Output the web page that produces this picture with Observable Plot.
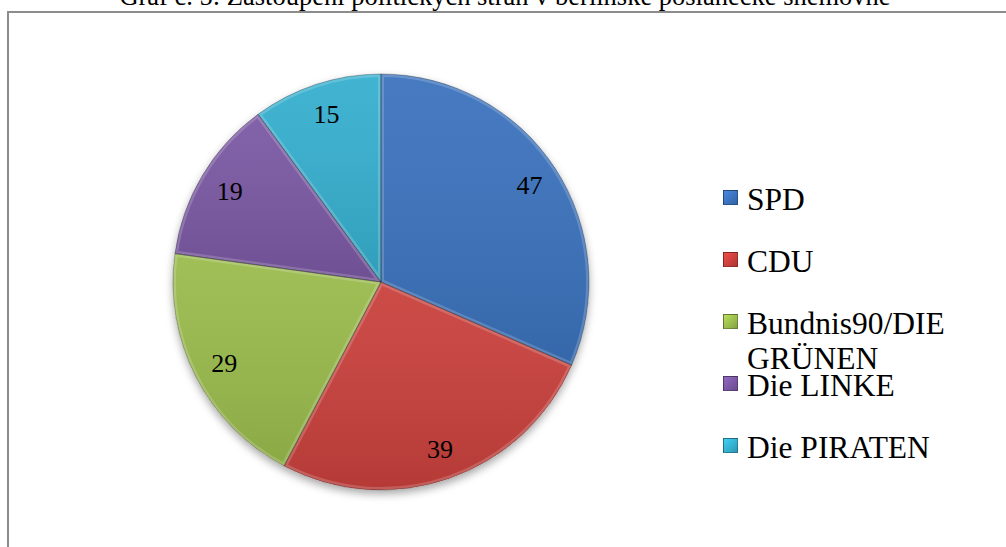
<!DOCTYPE html>
<html>
<head>
<meta charset="utf-8">
<script src="https://cdn.jsdelivr.net/npm/d3@7"></script>
<script src="https://cdn.jsdelivr.net/npm/@observablehq/plot@0.6"></script>
<style>
  html, body { margin: 0; padding: 0; background: #fff; overflow: hidden; }
  #wrap { position: relative; width: 1006px; height: 547px; overflow: hidden; font-family: "Liberation Serif", "Times New Roman", serif; }
  #title { position: absolute; left: 0; width: 1010px; top: -17px; line-height: 26px; font-size: 26.5px; text-align: center; color: #000; white-space: nowrap; }
  #frame { position: absolute; left: 7px; top: 11px; width: 1200px; height: 700px; border-left: 2px solid #8c8c8c; border-top: 2px solid #8c8c8c; }
  #chart { position: absolute; left: 0; top: 0; }
  #chart svg text { font-family: "Liberation Serif", "Times New Roman", serif !important; }
  .leg { position: absolute; left: 723px; width: 260px; font-size: 31.5px; line-height: 35px; color: #000; }
  .leg .sw { position: absolute; left: 0; width: 15px; height: 15px; box-sizing: border-box; border: 1px solid rgba(0,0,0,0.35); }
  .leg .tx { position: absolute; left: 24px; width: 215px; }
</style>
</head>
<body>
<div id="wrap">
  <div id="frame"></div>
  <div id="chart"></div>
  <div id="title"></div>
</div>
<script>
const titleText = "Graf č. 5: Zastoupení politických stran v berlínské poslanecké sněmovně";
const parties = ["SPD", "CDU", "Bundnis90/DIE GRÜNEN", "Die LINKE", "Die PIRATEN"];
const seats = [47, 39, 29, 19, 15];
const colors = ["#3b72bd", "#c9403c", "#9abb4c", "#7a58a3", "#35afcf"];

document.getElementById("title").textContent = titleText;

const data = parties.map((p, i) => ({party: p, value: seats[i]}));
const color = Plot.scale({color: {type: "ordinal", domain: parties, range: colors}});

const arcs = d3.pie().sort(null).value(d => d.value)(data);
const labelR = 0.85;
const labels = arcs.map(a => {
  const m = (a.startAngle + a.endAngle) / 2;
  return {x: labelR * Math.sin(m), y: labelR * Math.cos(m), text: String(a.data.value)};
});

const cx = 381, cy = 282, R = 208;

function pieMark(index, scales, values, dimensions) {
  const sx = scales.x, sy = scales.y;
  const x0 = sx(0), y0 = sy(0);
  const r = Math.abs(sx(1) - sx(0));
  const g = d3.create("svg:g");
  const defs = g.append("defs");
  const sh = defs.append("filter").attr("id", "pieShadow").attr("x", "-20%").attr("y", "-20%").attr("width", "140%").attr("height", "140%");
  sh.append("feDropShadow").attr("dx", 0).attr("dy", 4).attr("stdDeviation", 4).attr("flood-color", "#000").attr("flood-opacity", 0.35);
  const grad = defs.append("linearGradient").attr("id", "pieShade").attr("x1", 0).attr("y1", 0).attr("x2", 0).attr("y2", 1);
  grad.append("stop").attr("offset", "0%").attr("stop-color", "#fff").attr("stop-opacity", 0.06);
  grad.append("stop").attr("offset", "100%").attr("stop-color", "#000").attr("stop-opacity", 0.1);
  const arc = d3.arc().innerRadius(0).outerRadius(r);
  const root = g.append("g").attr("transform", `translate(${x0},${y0})`);
  root.append("circle").attr("r", r).attr("fill", "#fff").attr("filter", "url(#pieShadow)");
  arcs.forEach((a, i) => {
    const d = arc(a);
    defs.append("clipPath").attr("id", "clip" + i).append("path").attr("d", d).attr("transform", `translate(${x0},${y0})`);
    root.append("path").attr("d", d).attr("fill", color.apply(a.data.party));
    root.append("path").attr("d", d).attr("fill", "url(#pieShade)");
    const hl = g.append("g").attr("clip-path", `url(#clip${i})`);
    hl.append("path").attr("d", d).attr("transform", `translate(${x0},${y0})`)
      .attr("fill", "none").attr("stroke", "#fff").attr("stroke-opacity", 0.18).attr("stroke-width", 6);
  });
  arcs.forEach((a) => {
    g.append("path").attr("d", arc(a)).attr("transform", `translate(${x0},${y0})`)
      .attr("fill", "none").attr("stroke", "#000").attr("stroke-opacity", 0.35).attr("stroke-width", 0.8);
  });
  return g.node();
}

const chart = Plot.plot({
  width: 1006,
  height: 547,
  margin: 0,
  x: {domain: [-1, 1], range: [cx - R, cx + R], axis: null},
  y: {domain: [-1, 1], range: [cy + R, cy - R], axis: null},
  style: {background: "transparent", overflow: "visible", fontFamily: "Liberation Serif"},
  marks: [
    pieMark,
    Plot.text(labels, {x: "x", y: "y", text: "text", fontSize: 26, fontFamily: "Liberation Serif", fill: "#000"})
  ]
});
document.getElementById("chart").appendChild(chart);

// Legend
const wrap = document.getElementById("wrap");
parties.forEach((p, i) => {
  const center = 199 + i * 62;
  const item = document.createElement("div");
  item.className = "leg";
  item.style.top = (center - 17.5) + "px";
  const sw = document.createElement("div");
  sw.className = "sw";
  sw.style.top = (17.5 - 9) + "px";
  sw.style.background = `linear-gradient(135deg, ${d3.color(color.apply(p)).brighter(0.5)}, ${d3.color(color.apply(p)).darker(0.4)})`;
  const tx = document.createElement("div");
  tx.className = "tx";
  tx.textContent = p;
  item.appendChild(sw);
  item.appendChild(tx);
  wrap.appendChild(item);
});
</script>
</body>
</html>
